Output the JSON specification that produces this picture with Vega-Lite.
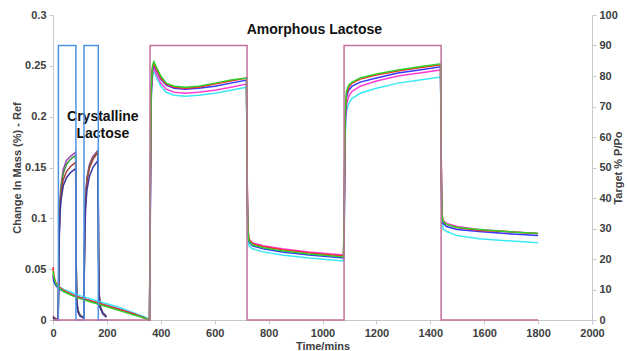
{
  "$schema": "https://vega.github.io/schema/vega-lite/v6.json",
  "width": 539,
  "height": 305,
  "autosize": "none",
  "padding": {"left": 53, "top": 15, "right": 35, "bottom": 31},
  "background": "white",
  "config": {
    "view": {"stroke": null},
    "font": "Liberation Sans",
    "axis": {
      "grid": false,
      "domainColor": "#c8c8c8",
      "tickColor": "#c8c8c8",
      "tickSize": 4,
      "labelColor": "#404040",
      "labelFont": "Liberation Sans",
      "labelFontWeight": "bold",
      "labelFontSize": 11,
      "titleColor": "#404040",
      "titleFont": "Liberation Sans",
      "titleFontWeight": "bold",
      "titleFontSize": 11
    }
  },
  "datasets": {
    "amorph": [
      {"t": 0, "red": 0.052, "green": 0.048, "blue": 0.043, "magenta": 0.045, "cyan": 0.038},
      {"t": 3, "red": 0.044, "green": 0.042, "blue": 0.038, "magenta": 0.040, "cyan": 0.037},
      {"t": 10, "red": 0.037, "green": 0.036, "blue": 0.034, "magenta": 0.035, "cyan": 0.035},
      {"t": 20, "red": 0.033, "green": 0.032, "blue": 0.031, "magenta": 0.032, "cyan": 0.033},
      {"t": 40, "red": 0.029, "green": 0.028, "blue": 0.028, "magenta": 0.029, "cyan": 0.030},
      {"t": 70, "red": 0.025, "green": 0.024, "blue": 0.025, "magenta": 0.025, "cyan": 0.027},
      {"t": 100, "red": 0.022, "green": 0.021, "blue": 0.022, "magenta": 0.022, "cyan": 0.024},
      {"t": 150, "red": 0.018, "green": 0.017, "blue": 0.018, "magenta": 0.018, "cyan": 0.020},
      {"t": 200, "red": 0.014, "green": 0.013, "blue": 0.014, "magenta": 0.014, "cyan": 0.016},
      {"t": 250, "red": 0.010, "green": 0.009, "blue": 0.010, "magenta": 0.010, "cyan": 0.012},
      {"t": 300, "red": 0.006, "green": 0.005, "blue": 0.006, "magenta": 0.006, "cyan": 0.007},
      {"t": 340, "red": 0.002, "green": 0.002, "blue": 0.002, "magenta": 0.002, "cyan": 0.003},
      {"t": 358, "red": 0.0, "green": 0.0, "blue": 0.0, "magenta": 0.0, "cyan": 0.0},
      {"t": 361, "red": 0.12, "green": 0.13, "blue": 0.11, "magenta": 0.10, "cyan": 0.09},
      {"t": 364, "red": 0.225, "green": 0.228, "blue": 0.222, "magenta": 0.218, "cyan": 0.212},
      {"t": 369, "red": 0.248, "green": 0.250, "blue": 0.246, "magenta": 0.243, "cyan": 0.238},
      {"t": 374, "red": 0.252, "green": 0.254, "blue": 0.251, "magenta": 0.248, "cyan": 0.245},
      {"t": 385, "red": 0.246, "green": 0.248, "blue": 0.245, "magenta": 0.241, "cyan": 0.238},
      {"t": 400, "red": 0.238, "green": 0.240, "blue": 0.237, "magenta": 0.233, "cyan": 0.230},
      {"t": 420, "red": 0.232, "green": 0.233, "blue": 0.231, "magenta": 0.227, "cyan": 0.224},
      {"t": 450, "red": 0.229, "green": 0.230, "blue": 0.228, "magenta": 0.224, "cyan": 0.221},
      {"t": 490, "red": 0.228, "green": 0.229, "blue": 0.227, "magenta": 0.223, "cyan": 0.220},
      {"t": 540, "red": 0.229, "green": 0.230, "blue": 0.228, "magenta": 0.224, "cyan": 0.221},
      {"t": 600, "red": 0.232, "green": 0.233, "blue": 0.230, "magenta": 0.226, "cyan": 0.223},
      {"t": 660, "red": 0.235, "green": 0.236, "blue": 0.233, "magenta": 0.229, "cyan": 0.226},
      {"t": 718, "red": 0.238, "green": 0.238, "blue": 0.236, "magenta": 0.232, "cyan": 0.229},
      {"t": 721, "red": 0.13, "green": 0.12, "blue": 0.12, "magenta": 0.13, "cyan": 0.11},
      {"t": 723, "red": 0.090, "green": 0.088, "blue": 0.087, "magenta": 0.091, "cyan": 0.083},
      {"t": 727, "red": 0.079, "green": 0.078, "blue": 0.077, "magenta": 0.080, "cyan": 0.073},
      {"t": 740, "red": 0.075, "green": 0.074, "blue": 0.073, "magenta": 0.076, "cyan": 0.070},
      {"t": 780, "red": 0.072, "green": 0.071, "blue": 0.070, "magenta": 0.073, "cyan": 0.067},
      {"t": 850, "red": 0.069, "green": 0.068, "blue": 0.067, "magenta": 0.070, "cyan": 0.064},
      {"t": 950, "red": 0.066, "green": 0.065, "blue": 0.064, "magenta": 0.067, "cyan": 0.061},
      {"t": 1078, "red": 0.063, "green": 0.062, "blue": 0.061, "magenta": 0.064, "cyan": 0.058},
      {"t": 1081, "red": 0.12, "green": 0.13, "blue": 0.11, "magenta": 0.10, "cyan": 0.09},
      {"t": 1084, "red": 0.200, "green": 0.205, "blue": 0.195, "magenta": 0.188, "cyan": 0.180},
      {"t": 1089, "red": 0.222, "green": 0.225, "blue": 0.219, "magenta": 0.212, "cyan": 0.205},
      {"t": 1097, "red": 0.229, "green": 0.231, "blue": 0.226, "magenta": 0.220, "cyan": 0.213},
      {"t": 1110, "red": 0.233, "green": 0.234, "blue": 0.230, "magenta": 0.225, "cyan": 0.218},
      {"t": 1140, "red": 0.237, "green": 0.238, "blue": 0.234, "magenta": 0.230, "cyan": 0.223},
      {"t": 1200, "red": 0.241, "green": 0.242, "blue": 0.238, "magenta": 0.235, "cyan": 0.228},
      {"t": 1280, "red": 0.245, "green": 0.246, "blue": 0.243, "magenta": 0.240, "cyan": 0.233},
      {"t": 1360, "red": 0.248, "green": 0.249, "blue": 0.246, "magenta": 0.243, "cyan": 0.236},
      {"t": 1438, "red": 0.251, "green": 0.252, "blue": 0.249, "magenta": 0.246, "cyan": 0.239},
      {"t": 1441, "red": 0.15, "green": 0.14, "blue": 0.14, "magenta": 0.15, "cyan": 0.13},
      {"t": 1443, "red": 0.105, "green": 0.104, "blue": 0.102, "magenta": 0.105, "cyan": 0.098},
      {"t": 1447, "red": 0.097, "green": 0.097, "blue": 0.095, "magenta": 0.098, "cyan": 0.090},
      {"t": 1460, "red": 0.094, "green": 0.094, "blue": 0.092, "magenta": 0.095, "cyan": 0.087},
      {"t": 1500, "red": 0.091, "green": 0.091, "blue": 0.089, "magenta": 0.092, "cyan": 0.083},
      {"t": 1580, "red": 0.088, "green": 0.089, "blue": 0.087, "magenta": 0.089, "cyan": 0.080},
      {"t": 1680, "red": 0.087, "green": 0.087, "blue": 0.085, "magenta": 0.087, "cyan": 0.078},
      {"t": 1800, "red": 0.085, "green": 0.085, "blue": 0.083, "magenta": 0.085, "cyan": 0.076}
    ],
    "cryst": [
      {"t": 0, "purple": 0.004, "olive": 0.002, "brown": 0.003, "navy": 0.002},
      {"t": 5, "purple": 0.002, "olive": 0.001, "brown": 0.002, "navy": 0.001},
      {"t": 12, "purple": 0.001, "olive": 0.0, "brown": 0.001, "navy": 0.0},
      {"t": 19, "purple": 0.0, "olive": 0.0, "brown": 0.0, "navy": 0.0},
      {"t": 21, "purple": 0.04, "olive": 0.04, "brown": 0.035, "navy": 0.03},
      {"t": 23, "purple": 0.09, "olive": 0.088, "brown": 0.084, "navy": 0.078},
      {"t": 26, "purple": 0.118, "olive": 0.115, "brown": 0.110, "navy": 0.104},
      {"t": 30, "purple": 0.133, "olive": 0.130, "brown": 0.124, "navy": 0.118},
      {"t": 38, "purple": 0.148, "olive": 0.144, "brown": 0.138, "navy": 0.132},
      {"t": 50, "purple": 0.157, "olive": 0.153, "brown": 0.146, "navy": 0.140},
      {"t": 65, "purple": 0.161, "olive": 0.158, "brown": 0.151, "navy": 0.145},
      {"t": 84, "purple": 0.165, "olive": 0.162, "brown": 0.155, "navy": 0.149},
      {"t": 86, "purple": 0.06, "olive": 0.06, "brown": 0.055, "navy": 0.05},
      {"t": 88, "purple": 0.022, "olive": 0.022, "brown": 0.02, "navy": 0.018},
      {"t": 92, "purple": 0.010, "olive": 0.010, "brown": 0.009, "navy": 0.008},
      {"t": 100, "purple": 0.005, "olive": 0.005, "brown": 0.004, "navy": 0.004},
      {"t": 114, "purple": 0.002, "olive": 0.002, "brown": 0.002, "navy": 0.002},
      {"t": 116, "purple": 0.05, "olive": 0.05, "brown": 0.05, "navy": 0.04},
      {"t": 118, "purple": 0.095, "olive": 0.093, "brown": 0.092, "navy": 0.085},
      {"t": 121, "purple": 0.122, "olive": 0.120, "brown": 0.118, "navy": 0.110},
      {"t": 126, "purple": 0.140, "olive": 0.138, "brown": 0.136, "navy": 0.128},
      {"t": 135, "purple": 0.153, "olive": 0.151, "brown": 0.149, "navy": 0.141},
      {"t": 148, "purple": 0.161, "olive": 0.159, "brown": 0.158, "navy": 0.150},
      {"t": 167, "purple": 0.167, "olive": 0.166, "brown": 0.165, "navy": 0.157},
      {"t": 169, "purple": 0.07, "olive": 0.07, "brown": 0.065, "navy": 0.06},
      {"t": 171, "purple": 0.028, "olive": 0.027, "brown": 0.026, "navy": 0.024},
      {"t": 175, "purple": 0.014, "olive": 0.013, "brown": 0.013, "navy": 0.012},
      {"t": 185, "purple": 0.007, "olive": 0.007, "brown": 0.006, "navy": 0.006},
      {"t": 198, "purple": 0.004, "olive": 0.003, "brown": 0.003, "navy": 0.003}
    ],
    "target": [
      {"run": "Crystalline", "t": 0, "rh": 0},
      {"run": "Crystalline", "t": 20, "rh": 90},
      {"run": "Crystalline", "t": 85, "rh": 0},
      {"run": "Crystalline", "t": 115, "rh": 90},
      {"run": "Crystalline", "t": 168, "rh": 0},
      {"run": "Crystalline", "t": 200, "rh": 0},
      {"run": "Amorphous", "t": 0, "rh": 0},
      {"run": "Amorphous", "t": 360, "rh": 90},
      {"run": "Amorphous", "t": 720, "rh": 0},
      {"run": "Amorphous", "t": 1080, "rh": 90},
      {"run": "Amorphous", "t": 1440, "rh": 0},
      {"run": "Amorphous", "t": 1800, "rh": 0}
    ]
  },
  "layer": [
    {
      "layer": [
        {
          "data": {"name": "cryst"},
          "transform": [{"fold": ["purple", "olive", "brown", "navy"], "as": ["sample", "mass"]}],
          "mark": {"type": "line", "strokeWidth": 1.5},
          "encoding": {
            "x": {"field": "t", "type": "quantitative"},
            "y": {"field": "mass", "type": "quantitative"},
            "color": {"field": "sample", "type": "nominal"}
          }
        },
        {
          "data": {"name": "amorph"},
          "transform": [{"fold": ["cyan", "magenta", "blue", "red", "green"], "as": ["sample", "mass"]}],
          "mark": {"type": "line", "strokeWidth": 1.5},
          "encoding": {
            "x": {
              "field": "t", "type": "quantitative",
              "scale": {"domain": [0, 2000], "nice": false},
              "axis": {"title": "Time/mins", "format": "d", "values": [0, 200, 400, 600, 800, 1000, 1200, 1400, 1600, 1800, 2000], "labelFlush": false, "titlePadding": 2, "labelPadding": 3}
            },
            "y": {
              "field": "mass", "type": "quantitative",
              "scale": {"domain": [0, 0.3], "nice": false},
              "axis": {"title": "Change In Mass (%) - Ref", "orient": "left", "values": [0, 0.05, 0.1, 0.15, 0.2, 0.25, 0.3], "format": ".2~f", "titlePadding": 2, "labelPadding": 3}
            },
            "color": {
              "field": "sample", "type": "nominal", "legend": null,
              "scale": {
                "domain": ["purple", "olive", "brown", "navy", "red", "green", "blue", "magenta", "cyan"],
                "range": ["#a040b0", "#3f9a3f", "#a83c3c", "#3a3a9e", "#ff2a2a", "#2ad22a", "#3535ff", "#ff3cd2", "#3ae8f5"]
              }
            }
          }
        },
        {
          "data": {"values": [{"label": "Amorphous Lactose"}]},
          "mark": {"type": "text", "font": "Liberation Sans", "fontSize": 14, "fontWeight": "bold", "color": "#111111"},
          "encoding": {"x": {"datum": 970}, "y": {"datum": 0.285}, "text": {"field": "label"}}
        },
        {
          "data": {"values": [{"label": "Crystalline Lactose"}]},
          "mark": {"type": "text", "text": ["Crystalline", "Lactose"], "font": "Liberation Sans", "fontSize": 14, "fontWeight": "bold", "color": "#111111", "lineHeight": 17},
          "encoding": {"x": {"datum": 185}, "y": {"datum": 0.2}}
        }
      ]
    },
    {
      "data": {"name": "target"},
      "mark": {"type": "line", "interpolate": "step-after", "strokeWidth": 1.5},
      "encoding": {
        "x": {"field": "t", "type": "quantitative"},
        "y": {
          "field": "rh", "type": "quantitative",
          "scale": {"domain": [0, 100], "nice": false},
          "axis": {"title": "Target % P/Po", "orient": "right", "values": [0, 10, 20, 30, 40, 50, 60, 70, 80, 90, 100], "titleAngle": 270, "titleBaseline": "bottom", "titlePadding": 6, "labelPadding": 3}
        },
        "stroke": {
          "field": "run", "type": "nominal", "legend": null,
          "scale": {"domain": ["Crystalline", "Amorphous"], "range": ["#4d94e6", "#c2709c"]}
        }
      }
    }
  ],
  "resolve": {"scale": {"y": "independent", "color": "independent"}}
}
